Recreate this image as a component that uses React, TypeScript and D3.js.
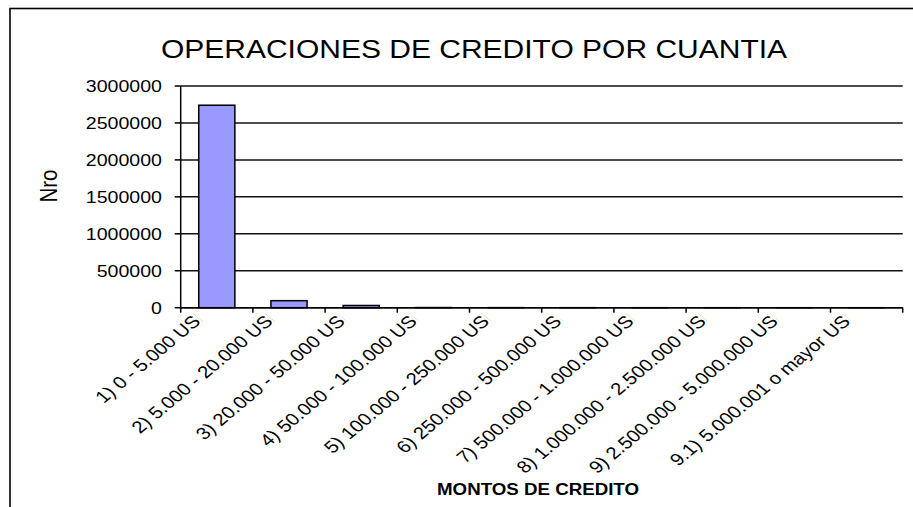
import React from "react";
import * as d3 from "d3";

const categories = [
  "1) 0 - 5.000 USD",
  "2) 5.000 - 20.000 USD",
  "3) 20.000 - 50.000 USD",
  "4) 50.000 - 100.000 USD",
  "5) 100.000 - 250.000 USD",
  "6) 250.000 - 500.000 USD",
  "7) 500.000 - 1.000.000 USD",
  "8) 1.000.000 - 2.500.000 USD",
  "9) 2.500.000 - 5.000.000 USD",
  "9.1) 5.000.001 o mayor USD",
];
const values = [2740000, 95000, 30000, 2000, 1000, 500, 200, 50, 10, 5];
const yTicks = [0, 500000, 1000000, 1500000, 2000000, 2500000, 3000000];
const title = "OPERACIONES DE CREDITO POR CUANTIA";
const yTitle = "Nro";
const xTitle = "MONTOS DE CREDITO";

const W = 913;
const H = 507;
const SX = 1.2; // horizontal stretch of the original picture
const FONT = "'Liberation Sans', Arial, sans-serif";

export default function App() {
  const left = 180.7;
  const right = 902.7;
  const top = 86;
  const bottom = 307.7;

  const x = d3
    .scaleBand<string>()
    .domain(categories)
    .range([left, right])
    .paddingInner(0.5)
    .paddingOuter(0.25);
  const y = d3.scaleLinear().domain([0, 3000000]).range([bottom, top]);
  const step = x.step();
  const boundaries = categories.map((c) => (x(c) as number) - step * 0.25);
  boundaries.push(right);

  return (
    <svg
      width={W}
      height={H}
      style={{ position: "absolute", left: 0, top: 0, background: "#fff" }}
    >
      <defs>
        <clipPath id="lblclip" clipPathUnits="userSpaceOnUse">
          <rect x={-1000} y={-60} width={1000} height={120} />
        </clipPath>
      </defs>
      <rect x={0} y={0} width={W} height={H} fill="#fff" />
      {/* frame */}
      <rect
        x={10}
        y={8.5}
        width={W + 20}
        height={H + 20}
        fill="none"
        stroke="#000"
        strokeWidth={1.6}
      />
      {/* title */}
      <g transform={`translate(474,58) scale(${SX},1)`}>
        <text textAnchor="middle" fontFamily={FONT} fontSize={25} fill="#000">
          {title}
        </text>
      </g>
      {/* gridlines */}
      {yTicks.map((t) => (
        <line
          key={"g" + t}
          x1={left}
          x2={right}
          y1={y(t)}
          y2={y(t)}
          stroke="#111"
          strokeWidth={1.5}
        />
      ))}
      {/* bars */}
      {categories.map((c, i) => (
        <rect
          key={"b" + c}
          x={x(c)}
          y={y(values[i])}
          width={x.bandwidth()}
          height={bottom - y(values[i])}
          fill="#9999FF"
          stroke="#000"
          strokeWidth={1.5}
        />
      ))}
      {/* y axis */}
      <line x1={left} x2={left} y1={top} y2={bottom} stroke="#000" strokeWidth={1.5} />
      {yTicks.map((t) => (
        <g key={"yt" + t}>
          <line x1={left - 6} x2={left} y1={y(t)} y2={y(t)} stroke="#000" strokeWidth={1.5} />
          <g transform={`translate(162,${y(t)}) scale(${SX},1)`}>
            <text textAnchor="end" dy="0.36em" fontFamily={FONT} fontSize={16.3} fill="#000">
              {t}
            </text>
          </g>
        </g>
      ))}
      {/* x axis */}
      <line x1={left} x2={right} y1={bottom} y2={bottom} stroke="#000" strokeWidth={1.5} />
      {boundaries.map((bx, i) => (
        <line
          key={"xt" + i}
          x1={bx}
          x2={bx}
          y1={bottom}
          y2={bottom + 5}
          stroke="#000"
          strokeWidth={1.5}
        />
      ))}
      {categories.map((c, i) => (
        <g
          key={"xl" + c}
          transform={`translate(${boundaries[i] + 22},${bottom + 14}) scale(${SX},1) rotate(-45)`}
        >
          <text
            textAnchor="end"
            x={11}
            fontFamily={FONT}
            fontSize={17}
            fill="#000"
            clipPath="url(#lblclip)"
          >
            {c}
          </text>
        </g>
      ))}
      {/* axis titles */}
      <g transform={`translate(57,186) scale(1.2,1) rotate(-90)`}>
        <text textAnchor="middle" fontFamily={FONT} fontSize={20.5} fill="#000">
          {yTitle}
        </text>
      </g>
      <g transform={`translate(538,495) scale(${SX},1)`}>
        <text textAnchor="middle" fontFamily={FONT} fontSize={15.6} fontWeight="bold" fill="#000">
          {xTitle}
        </text>
      </g>
    </svg>
  );
}
